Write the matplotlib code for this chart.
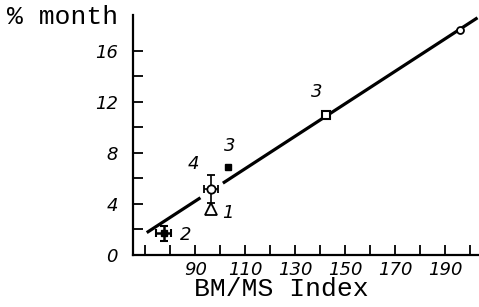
import matplotlib.pyplot as plt
import numpy as np

# regression line: y = slope * x + intercept, drawn in two pieces
slope = 0.127
intercept = -7.2
fit_lower_x = [70.5, 92.0]
fit_upper_x = [101.0, 203.0]

# points on the line (open markers)
circ_x, circ_y = [196.0], [17.6]
sq_x, sq_y = [142.4], [11.0]

# separate observations
obs3_x, obs3_y = [103.1], [6.9]                       # filled square
obs4_x, obs4_y, obs4_xerr, obs4_yerr = [96.3], [5.2], [2.7], [1.1]
obs1_x, obs1_y = [96.3], [3.6]                        # open triangle
obs2_x, obs2_y, obs2_xerr, obs2_yerr = [77.3], [1.7], [3.0], [0.6]

labels = ["3", "3", "4", "1", "2"]
label_x = [138.4, 103.9, 89.2, 103.0, 86.0]
label_y = [12.8, 8.5, 7.1, 3.3, 1.6]

xticks_major = [90, 110, 130, 150, 170, 190]
xticks_minor = [70, 80, 100, 120, 140, 160, 180, 200]
yticks_major = [0, 4, 8, 12, 16]
yticks_minor = [2, 6, 10, 14]

tick_font = dict(family=["Liberation Sans Narrow", "DejaVu Sans"], style="italic", size=13)
label_font = dict(family=["Liberation Mono", "DejaVu Sans Mono"], size=19)

fig = plt.figure(figsize=(4.79, 3.07), dpi=100)
ax = fig.add_axes([0.2777, 0.1694, 0.7223, 0.7818])

lx = np.array(fit_lower_x)
ux = np.array(fit_upper_x)
ax.plot(lx, slope * lx + intercept, "-k", lw=2.3, solid_capstyle="butt")
ax.plot(ux, slope * ux + intercept, "-k", lw=2.3, solid_capstyle="butt", zorder=2)

ax.plot(circ_x, circ_y, "o", mfc="white", mec="k", ms=5, mew=1.3, zorder=3)
ax.plot(sq_x, sq_y, "s", mfc="white", mec="k", ms=6, mew=1.5, zorder=3)
ax.plot(obs3_x, obs3_y, "s", color="k", ms=4.5)
ax.errorbar(obs4_x, obs4_y, xerr=obs4_xerr, yerr=obs4_yerr, fmt="o", mfc="white",
            mec="k", ecolor="k", ms=6, mew=1.3, elinewidth=1.2, capsize=3, capthick=1.2)
ax.plot(obs1_x, obs1_y, "^", mfc="white", mec="k", ms=8, mew=1.3)
ax.errorbar(obs2_x, obs2_y, xerr=obs2_xerr, yerr=obs2_yerr, fmt="s", color="k",
            ms=4, elinewidth=1.8, capsize=3, capthick=1.5)

for t, x, y in zip(labels, label_x, label_y):
    ax.text(x, y, t, ha="center", va="center", **tick_font)

ax.set_xlim(65, 203.6)
ax.set_ylim(0, 18.8)
ax.set_xticks(xticks_major)
ax.set_xticks(xticks_minor, minor=True)
ax.set_yticks(yticks_major)
ax.set_yticks(yticks_minor, minor=True)
ax.set_xticklabels([str(v) for v in xticks_major], **tick_font)
ax.set_yticklabels([str(v) for v in yticks_major], **tick_font)

ax.tick_params(which="both", direction="in", length=7, width=1.3, colors="k")
ax.tick_params(axis="x", which="both", pad=4)
ax.tick_params(axis="y", which="both", pad=11)

for s in ["top", "right"]:
    ax.spines[s].set_visible(False)
for s in ["left", "bottom"]:
    ax.spines[s].set_linewidth(1.6)

fig.text(281 / 479, 1 - 289 / 307, "BM/MS Index", ha="center", va="center", **label_font)
fig.text(63 / 479, 1 - 17 / 307, "% month", ha="center", va="center", **label_font)

fig.savefig("out.png", dpi=100)
